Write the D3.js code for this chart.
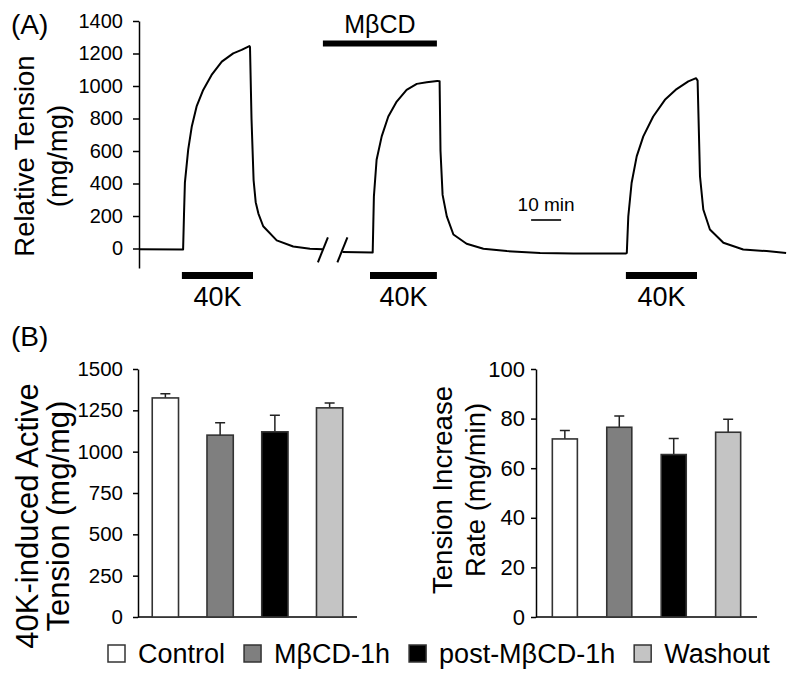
<!DOCTYPE html>
<html>
<head>
<meta charset="utf-8">
<script src="https://cdn.jsdelivr.net/npm/d3@7"></script>
<style>
  body { margin: 0; background: #fff; }
  svg text { font-family: "Liberation Sans", Arial, sans-serif; fill: #000; }
  .axis path, .axis line { stroke: #000; stroke-width: 1.5; }
</style>
</head>
<body>
<div id="chart"></div>
<script>
// ---- panel A: tension trace (time in min, tension in mg/mg) ----
var seg1Time = [0, 14.7, 15.0, 15.3, 16.4, 17.6, 19.2, 21.4, 24.2, 27.6, 31.4, 34.2, 36.8, 37.0, 37.5, 38.2, 38.9, 39.8, 41.4, 45.9, 51.4, 57.0, 61.3];
var seg1Value = [-5, -6, 209, 405, 608, 751, 874, 976, 1068, 1150, 1201, 1222, 1246, 1240, 800, 420, 285, 215, 137, 50, 12, -2, -4];
var seg2Time = [67.8, 77.9, 78.1, 78.3, 79.2, 80.9, 83.1, 85.9, 89.2, 92.6, 95.9, 99.4, 100.2, 100.5, 101.2, 102.6, 104.8, 109.2, 114.8, 122.6, 133.7, 144.8, 162.3,
  162.6, 163.1, 164.2, 165.9, 168.1, 171.4, 175.3, 179.2, 183.1, 185.7, 186.2, 187.0, 188.1, 190.3, 194.8, 201.4, 209.2, 215.7];
var seg2Value = [-22, -25, 150, 321, 546, 690, 812, 904, 976, 1013, 1023, 1031, 1030, 600, 330, 198, 86, 29, -2, -16, -27, -31, -31,
  -27, 198, 403, 567, 690, 812, 915, 981, 1028, 1048, 1033, 444, 240, 117, 35, -6, -16, -27];
var tensionTicks = [0, 200, 400, 600, 800, 1000, 1200, 1400];
var k40Periods = [[14.3, 38.0], [77.0, 99.3], [162.3, 186.0]];
var mbcdPeriod = [61.3, 99.3];
var breakTimes = [61.3, 67.8];
var scaleBarTime = [130.7, 140.7];

// ---- panel B: summary bars ----
var groups = ["Control", "M\u03b2CD-1h", "post-M\u03b2CD-1h", "Washout"];
var groupColors = ["#ffffff", "#7f7f7f", "#000000", "#c4c4c4"];
var activeTension = [1325, 1100, 1120, 1265];
var activeTensionErr = [25, 75, 100, 30];
var increaseRate = [71.8, 76.5, 65.5, 74.5];
var increaseRateErr = [3.4, 4.5, 6.5, 5.2];
var activeTicks = [0, 250, 500, 750, 1000, 1250, 1500];
var rateTicks = [0, 20, 40, 60, 80, 100];

var W = 800, H = 684;
var svg = d3.select("#chart").append("svg")
  .attr("width", W)
  .attr("height", H);

// ======== Panel A ========
var xT = d3.scaleLinear().domain([0, 216]).range([139, 787]);
var yT = d3.scaleLinear().domain([-120, 1400]).range([268, 21]);

svg.append("g")
  .attr("class", "axis")
  .attr("transform", "translate(139,0)")
  .call(d3.axisLeft(yT).tickValues(tensionTicks).tickFormat(d3.format("d"))
    .tickSize(6).tickSizeOuter(0).tickPadding(10))
  .selectAll("text")
  .attr("font-size", "20px");

var line = d3.line()
  .x(function (d) { return xT(d[0]); })
  .y(function (d) { return yT(d[1]); });

[[seg1Time, seg1Value], [seg2Time, seg2Value]].forEach(function (s) {
  svg.append("path")
    .datum(d3.zip(s[0], s[1]))
    .attr("d", line)
    .attr("fill", "none")
    .attr("stroke", "#000")
    .attr("stroke-width", 2)
    .attr("stroke-linejoin", "round");
});

// axis break marks
svg.selectAll(".brk")
  .data(breakTimes)
  .enter()
  .append("line")
  .attr("x1", function (d) { return xT(d) - 5; })
  .attr("x2", function (d) { return xT(d) + 5; })
  .attr("y1", yT(-5) + 13)
  .attr("y2", yT(-5) - 12)
  .attr("stroke", "#000")
  .attr("stroke-width", 2);

// 40K stimulus bars
svg.selectAll(".k40")
  .data(k40Periods)
  .enter()
  .append("line")
  .attr("x1", function (d) { return xT(d[0]); })
  .attr("x2", function (d) { return xT(d[1]); })
  .attr("y1", 275.5)
  .attr("y2", 275.5)
  .attr("stroke", "#000")
  .attr("stroke-width", 7);

svg.selectAll(".k40lab")
  .data(k40Periods)
  .enter()
  .append("text")
  .attr("x", function (d) { return (xT(d[0]) + xT(d[1])) / 2; })
  .attr("y", 306)
  .attr("text-anchor", "middle")
  .attr("font-size", "27px")
  .text("40K");

// MbCD bar
svg.append("line")
  .attr("x1", xT(mbcdPeriod[0]))
  .attr("x2", xT(mbcdPeriod[1]))
  .attr("y1", 43.5)
  .attr("y2", 43.5)
  .attr("stroke", "#000")
  .attr("stroke-width", 6);
svg.append("text")
  .attr("x", (xT(mbcdPeriod[0]) + xT(mbcdPeriod[1])) / 2)
  .attr("y", 33)
  .attr("text-anchor", "middle")
  .attr("font-size", "25px")
  .text("M\u03b2CD");

// 10 min scale bar
svg.append("line")
  .attr("x1", xT(scaleBarTime[0]))
  .attr("x2", xT(scaleBarTime[1]))
  .attr("y1", 220)
  .attr("y2", 220)
  .attr("stroke", "#000")
  .attr("stroke-width", 1.6);
svg.append("text")
  .attr("x", (xT(scaleBarTime[0]) + xT(scaleBarTime[1])) / 2)
  .attr("y", 211)
  .attr("text-anchor", "middle")
  .attr("font-size", "19px")
  .text("10 min");

// labels
svg.append("text").attr("x", 11).attr("y", 34).attr("font-size", "28px").text("(A)");
svg.append("text").attr("x", 11).attr("y", 346).attr("font-size", "28px").text("(B)");

function yLabel(lines, cx, cy, size) {
  lines.forEach(function (t, i) {
    svg.append("text")
      .attr("transform", "translate(" + cx[i] + "," + cy + ") rotate(-90)")
      .attr("text-anchor", "middle")
      .attr("font-size", size)
      .text(t);
  });
}
yLabel(["Relative Tension", "(mg/mg)"], [34, 67], 156, "27.5px");

// ======== Panel B ========
function barChart(opts) {
  var x = d3.scaleBand().domain(groups).range([opts.left, opts.right])
    .paddingInner(opts.pi).paddingOuter(opts.po);
  var y = d3.scaleLinear().domain([0, opts.max]).range([617, 369]);

  var g = svg.append("g");

  g.append("g")
    .attr("class", "axis")
    .attr("transform", "translate(" + opts.left + ",0)")
    .call(d3.axisLeft(y).tickValues(opts.ticks).tickFormat(d3.format("d"))
      .tickSize(5).tickSizeOuter(0).tickPadding(opts.pad))
    .selectAll("text")
    .attr("font-size", opts.tickFont);

  g.append("line")
    .attr("x1", opts.left)
    .attr("x2", opts.right)
    .attr("y1", y(0))
    .attr("y2", y(0))
    .attr("stroke", "#000")
    .attr("stroke-width", 1.5);

  // error bars (upper only)
  g.selectAll(".err")
    .data(opts.values)
    .enter()
    .append("path")
    .attr("d", function (d, i) {
      var cx = x(groups[i]) + x.bandwidth() / 2;
      var top = y(d + opts.err[i]);
      return "M" + cx + "," + y(d) + "V" + top + "M" + (cx - 5) + "," + top + "H" + (cx + 5);
    })
    .attr("stroke", "#222")
    .attr("stroke-width", 1.5)
    .attr("fill", "none");

  g.selectAll(".bar")
    .data(opts.values)
    .enter()
    .append("rect")
    .attr("x", function (d, i) { return x(groups[i]); })
    .attr("y", function (d) { return y(d); })
    .attr("width", x.bandwidth())
    .attr("height", function (d) { return y(0) - y(d); })
    .attr("fill", function (d, i) { return groupColors[i]; })
    .attr("stroke", "#333")
    .attr("stroke-width", 1.6);
}

barChart({ left: 138, right: 357, pi: 0.52, po: 0.26, max: 1500, ticks: activeTicks,
  values: activeTension, err: activeTensionErr, tickFont: "20.5px", pad: 10 });
barChart({ left: 536, right: 757, pi: 0.54, po: 0.3, max: 100, ticks: rateTicks,
  values: increaseRate, err: increaseRateErr, tickFont: "22px", pad: 6 });

yLabel(["40K-induced Active", "Tension (mg/mg)"], [38, 69], 516, "31px");
yLabel(["Tension Increase", "Rate (mg/min)"], [452, 485], 490, "27.5px");

// legend
var lx = 108;
groups.forEach(function (name, i) {
  svg.append("rect")
    .attr("x", lx)
    .attr("y", 645)
    .attr("width", 17)
    .attr("height", 17)
    .attr("fill", groupColors[i])
    .attr("stroke", "#333")
    .attr("stroke-width", 1.5);
  var t = svg.append("text")
    .attr("x", lx + 30)
    .attr("y", 663)
    .attr("font-size", "27px")
    .text(name);
  lx += 30 + t.node().getComputedTextLength() + 19;
});
</script>
</body>
</html>
